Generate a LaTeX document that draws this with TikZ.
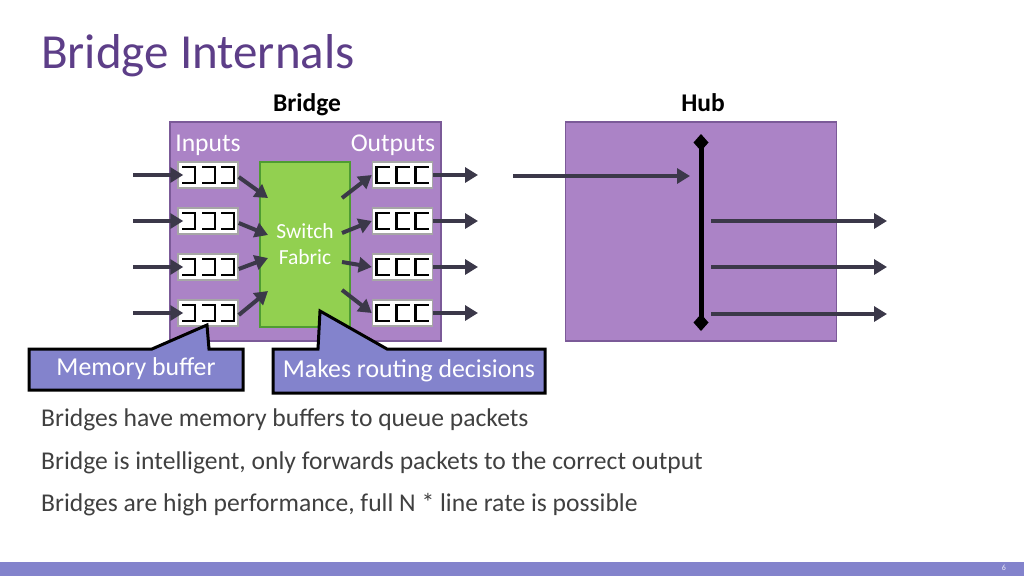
\documentclass[tikz,border=0pt]{standalone}
\usepackage{fontspec}
\setmainfont{Carlito}
\usetikzlibrary{arrows.meta,calc}

\definecolor{boxpurple}{HTML}{AB83C6}
\definecolor{boxedge}{HTML}{7B5A98}
\definecolor{fabricgreen}{HTML}{92D050}
\definecolor{fabricedge}{HTML}{4F9C32}
\definecolor{flowgray}{HTML}{3B3849}
\definecolor{calloutblue}{HTML}{8383CC}
\definecolor{titlepurple}{HTML}{5D3E88}
\definecolor{bodygray}{HTML}{404040}

\tikzset{
  flow/.style={draw=flowgray,line width=4pt,-{Triangle[length=13pt,width=15pt]}},
  unitbox/.style={draw=boxedge,fill=boxpurple,line width=1.2pt,minimum width=271pt,minimum height=219pt,inner sep=0pt},
  buf/.style={draw=gray!70,fill=white,line width=1.5pt,minimum width=60pt,minimum height=26pt,inner sep=0pt},
  slot/.style={draw=black,line width=2.8pt},
  callout/.style={draw=black,fill=calloutblue,line width=3pt,line join=miter},
  body/.style={anchor=base west,inner sep=0pt,text=bodygray,font=\fontsize{25.6}{30}\selectfont},
}

\begin{document}
\begin{tikzpicture}[x=1pt,y=-1pt]
  \useasboundingbox (0,0) rectangle (1024,576);

  % title
  \node[anchor=base west,inner sep=0pt,text=titlepurple,font=\fontsize{49}{56}\selectfont] (title) at (41,68) {Bridge Internals};
  \node[anchor=base,inner sep=0pt,font=\bfseries\fontsize{25.5}{30}\selectfont] (bridgelbl) at (307,111) {Bridge};
  \node[anchor=base,inner sep=0pt,font=\bfseries\fontsize{25.5}{30}\selectfont] (hublbl) at (703,111) {Hub};

  % bridge
  \node[unitbox] (bridge) at (305.5,231.5) {};
  \node[anchor=base,inner sep=0pt,text=white,font=\fontsize{25.6}{30}\selectfont] (inlbl) at (208,151) {Inputs};
  \node[anchor=base,inner sep=0pt,text=white,font=\fontsize{25.6}{30}\selectfont] (outlbl) at (393,151) {Outputs};
  \node[draw=fabricedge,fill=fabricgreen,line width=1.5pt,minimum width=90pt,minimum height=165pt,inner sep=0pt] (fabric) at (305,244.5) {};
  \node[text=white,align=center,font=\fontsize{21.5}{26}\selectfont] (fabriclbl) at (305,244) {Switch\\Fabric};

  \foreach \i/\y/\fy/\gy in {1/175/198/198, 2/221/235/233, 3/267/258/262, 4/313/291/290} {
    \node[buf] (in\i) at (208,\y) {};
    \node[buf] (out\i) at (402.5,\y) {};
    \foreach \k in {-19.5,0.5,19.5} {
      \draw[slot] ($(in\i.center)+(\k-6.5,-8)$) -- ++(13,0) -- ++(0,16) -- ++(-13,0);
      \draw[slot] ($(out\i.center)+(\k+6.5,-8)$) -- ++(-13,0) -- ++(0,16) -- ++(13,0);
    }
    \coordinate (src\i) at (133,\y);
    \coordinate (dst\i) at (478,\y);
    \coordinate (fin\i) at (268,\fy);
    \coordinate (fout\i) at (342,\gy);
    \draw[flow] (src\i) -- ([xshift=6pt]in\i.west);
    \draw[flow] ([yshift=-2pt]in\i.east) -- (fin\i);
    \draw[flow] (fout\i) -- (out\i.west);
    \draw[flow] (out\i.east) -- (dst\i);
  }

  % hub
  \node[unitbox] (hub) at (701,231.5) {};
  \coordinate (bustop) at (701,134);
  \coordinate (busbot) at (701,331);
  \draw[line width=5pt,{Diamond[length=17pt,width=15pt]}-{Diamond[length=17pt,width=15pt]}] (bustop) -- (busbot);
  \coordinate (hubsrc) at (513,176);
  \coordinate (hubin) at (690,176);
  \draw[flow] (hubsrc) -- (hubin);
  \foreach \y [count=\j] in {221,267,314} {
    \coordinate (tap\j) at (711,\y);
    \coordinate (hubdst\j) at (887,\y);
    \draw[flow] (tap\j) -- (hubdst\j);
  }

  % callouts
  \draw[callout] (29,349) -- (152,349) -- (207,325) -- (209,349) -- (243,349) -- (243,390) -- (29,390) -- cycle;
  \node[text=white,font=\fontsize{25.8}{30}\selectfont] (membuf) at (136,369) {Memory buffer};
  \draw[callout] (273,349) -- (318,349) -- (320,311) -- (387,349) -- (545,349) -- (545,393) -- (273,393) -- cycle;
  \node[text=white,font=\fontsize{25.8}{30}\selectfont] (routing) at (409,371) {Makes routing decisions};

  % bullet text
  \node[body] (line1) at (41,426) {Bridges have memory buffers to queue packets};
  \node[body] (line2) at (41,469) {Bridge is intelligent, only forwards packets to the correct output};
  \node[body] (line3) at (41,511) {Bridges are high performance, full N * line rate is possible};

  % footer
  \fill[calloutblue] (0,562) rectangle (1024,576);
  \node[text=white!85!calloutblue,font=\fontsize{8}{9}\selectfont] (pagenum) at (1004,568) {6};
\end{tikzpicture}
\end{document}
